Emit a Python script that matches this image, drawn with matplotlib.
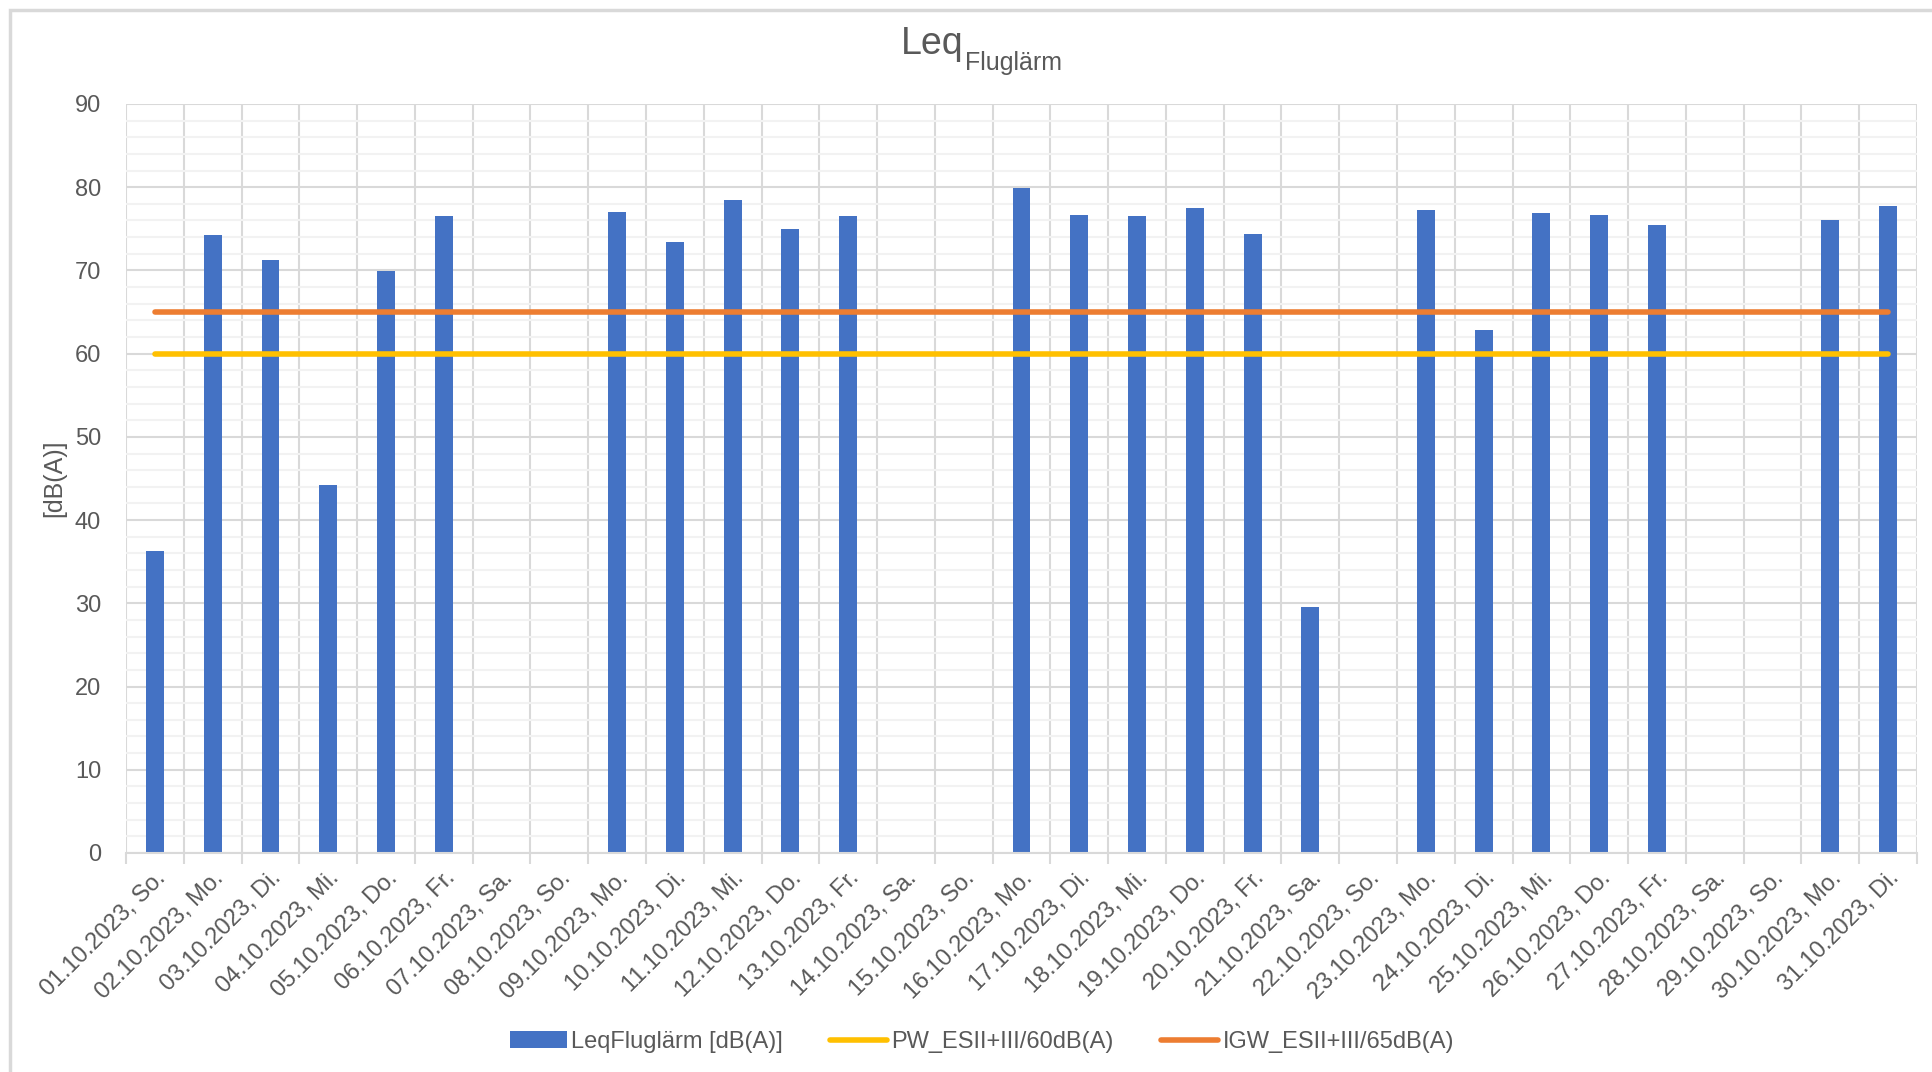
import matplotlib.pyplot as plt
import numpy as np
from matplotlib.patches import Rectangle
from matplotlib.ticker import MultipleLocator

plt.rcParams['font.family'] = ['Liberation Sans', 'DejaVu Sans']

days = ['01.10.2023, So.', '02.10.2023, Mo.', '03.10.2023, Di.', '04.10.2023, Mi.',
        '05.10.2023, Do.', '06.10.2023, Fr.', '07.10.2023, Sa.', '08.10.2023, So.',
        '09.10.2023, Mo.', '10.10.2023, Di.', '11.10.2023, Mi.', '12.10.2023, Do.',
        '13.10.2023, Fr.', '14.10.2023, Sa.', '15.10.2023, So.', '16.10.2023, Mo.',
        '17.10.2023, Di.', '18.10.2023, Mi.', '19.10.2023, Do.', '20.10.2023, Fr.',
        '21.10.2023, Sa.', '22.10.2023, So.', '23.10.2023, Mo.', '24.10.2023, Di.',
        '25.10.2023, Mi.', '26.10.2023, Do.', '27.10.2023, Fr.', '28.10.2023, Sa.',
        '29.10.2023, So.', '30.10.2023, Mo.', '31.10.2023, Di.']
leq = [36.3, 74.3, 71.3, 44.2, 69.9, 76.6, np.nan, np.nan,
       77.0, 73.4, 78.5, 75.0, 76.5, np.nan, np.nan, 79.9,
       76.7, 76.5, 77.5, 74.4, 29.5, np.nan, 77.3, 62.8,
       76.9, 76.7, 75.5, np.nan, np.nan, 76.0, 77.7]
pw = [60] * len(days)
igw = [65] * len(days)

txt = '#595959'
fs = 17
fig = plt.figure(figsize=(19.33, 10.72), dpi=100)
ax = fig.add_axes([0.0652, 0.2043, 0.9265, 0.6987])

x = np.arange(len(days))
b = ax.bar(x, leq, width=0.31, color='#4472C4', label='LeqFluglärm [dB(A)]', zorder=2)
l1, = ax.plot(x, pw, color='#FFC000', lw=4, solid_capstyle='round', label='PW_ESII+III/60dB(A)', zorder=3)
l2, = ax.plot(x, igw, color='#ED7D31', lw=4, solid_capstyle='round', label='IGW_ESII+III/65dB(A)', zorder=3)

ax.set_xlim(-0.5, len(days) - 0.5)
ax.set_ylim(0, 90)
ax.yaxis.set_major_locator(MultipleLocator(10))
ax.yaxis.set_minor_locator(MultipleLocator(2))
ax.grid(which='major', axis='y', color='#D9D9D9', lw=1.5, zorder=0)
ax.grid(which='minor', axis='y', color='#F2F2F2', lw=1.5, zorder=0)
ax.set_xticks(x)
ax.set_xticks(np.arange(len(days) + 1) - 0.5, minor=True)
ax.grid(which='minor', axis='x', color='#D9D9D9', lw=1.5, zorder=0)
ax.set_xticklabels(days, rotation=45, ha='right', rotation_mode='anchor', fontsize=fs, color=txt)
ax.tick_params(axis='x', which='major', length=0, pad=10)
ax.tick_params(axis='x', which='minor', length=8, color='#D9D9D9', width=1.5)
ax.tick_params(axis='y', which='both', length=0, labelsize=fs, labelcolor=txt, pad=18)
for s in ['top', 'right', 'left']:
    ax.spines[s].set_visible(False)
ax.spines['bottom'].set_color('#D9D9D9')
ax.spines['bottom'].set_linewidth(1.5)
ax.set_ylabel('[dB(A)]', fontsize=18, color=txt, labelpad=6)

t1 = fig.text(0.466, 0.950, 'Leq', fontsize=27, color=txt, ha='left', va='baseline')
ax.annotate('Fluglärm', xy=(1, 0), xycoords=t1, xytext=(1, -6), textcoords='offset points',
            fontsize=18, color=txt, ha='left', va='baseline')

leg = fig.legend([b, l1, l2], [b.get_label(), l1.get_label(), l2.get_label()],
                 loc='center', bbox_to_anchor=(0.508, 0.028), ncol=3, frameon=False,
                 fontsize=fs, handlelength=2.4, handletextpad=0.2, columnspacing=2.0)
for t in leg.get_texts():
    t.set_color(txt)

fig.patches.append(Rectangle((10 / 1933, -0.05), 1.2, 1 - 10 / 1072 + 0.05, transform=fig.transFigure,
                             fill=False, edgecolor='#D9D9D9', lw=2.5))

fig.savefig('out.png', dpi=100)
